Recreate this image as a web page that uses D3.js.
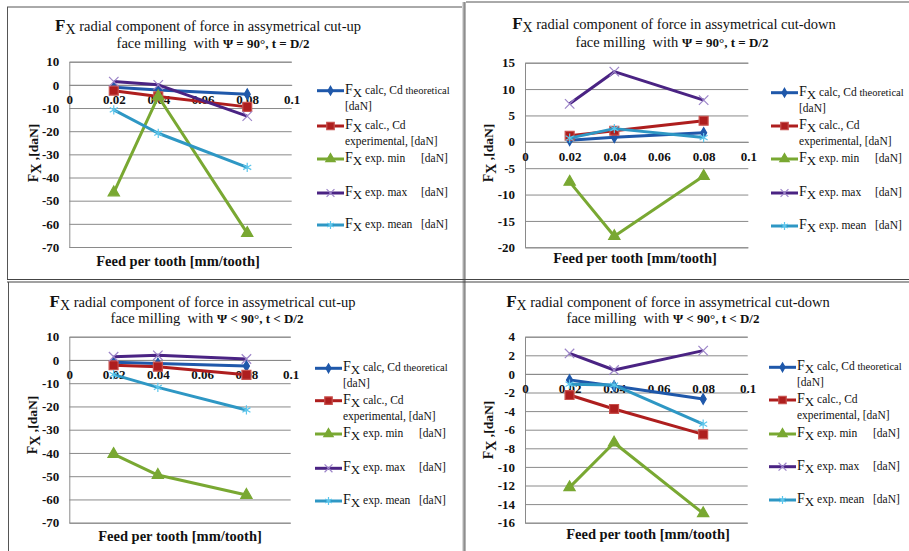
<!DOCTYPE html>
<html>
<head>
<meta charset="utf-8">
<script src="https://cdn.jsdelivr.net/npm/d3@7"></script>
<style>
  body { margin: 0; background: #fff; }
  svg, svg text, svg tspan { font-family: "Liberation Serif", "DejaVu Serif", "Times New Roman", serif !important; }
</style>
</head>
<body>
<svg id="chart" width="909" height="551"></svg>
<script>
// Feed per tooth values (mm/tooth) and x-axis ticks
const feed = [0.02, 0.04, 0.08];
const xTicks = [0, 0.02, 0.04, 0.06, 0.08, 0.1];
const xTickLabels = ["0", "0.02", "0.04", "0.06", "0.08", "0.1"];

// Legend entries (text after the "Fx" symbol); the tail is set a little smaller
const legendMain = ["calc, Cd", "calc.,  Cd", "exp. min", "exp. max", "exp. mean"];
const legendTail = [" theoretical", "", "", "", ""];
const legendSecond = ["[daN]", "experimental,  [daN]", "", "", ""];
const legendUnit = ["", "", "[daN]", "[daN]", "[daN]"];

// Cut-up milling, Ψ = 90°, t = D/2
const upFullTheor = [-1.0, -2.2, -4.0];
const upFullExper = [-2.5, -5.0, -9.5];
const upFullMin   = [-46.5, -5.0, -64.0];
const upFullMax   = [1.4, 0.0, -13.5];
const upFullMean  = [-10.8, -20.9, -35.6];
const upFullTicks = [10, 0, -10, -20, -30, -40, -50, -60, -70];

// Cut-down milling, Ψ = 90°, t = D/2
const downFullTheor = [0.3, 0.85, 1.7];
const downFullExper = [1.15, 2.1, 4.0];
const downFullMin   = [-7.6, -17.9, -6.5];
const downFullMax   = [7.2, 13.3, 7.9];
const downFullMean  = [0.7, 2.5, 0.8];
const downFullTicks = [15, 10, 5, 0, -5, -10, -15, -20];

// Cut-up milling, Ψ < 90°, t < D/2
const upPartTheor = [-1.0, -1.5, -2.6];
const upPartExper = [-2.3, -2.9, -6.4];
const upPartMin   = [-40.5, -49.5, -58.1];
const upPartMax   = [1.4, 2.0, 0.4];
const upPartMean  = [-6.3, -11.8, -21.5];
const upPartTicks = [10, 0, -10, -20, -30, -40, -50, -60, -70];

// Cut-down milling, Ψ < 90°, t < D/2
const downPartTheor = [-0.66, -1.3, -2.7];
const downPartExper = [-2.27, -3.77, -6.5];
const downPartMin   = [-12.2, -7.4, -15.0];
const downPartMax   = [2.2, 0.42, 2.5];
const downPartMean  = [-1.1, -1.2, -5.4];
const downPartTicks = [4, 2, 0, -2, -4, -6, -8, -10, -12, -14, -16];

const FONT = "'Liberation Serif', 'DejaVu Serif', 'Times New Roman', serif";

// Series styling: line colour, marker shape, marker fill / stroke
const seriesStyle = [
  { color: "#1F58AA", symbol: d3.symbolDiamond, size: 32, fill: "#1F58AA", stroke: "#1F58AA" },
  { color: "#AE1E1E", symbol: d3.symbolSquare, size: 80, fill: "#AE1E1E", stroke: "#C8504C" },
  { color: "#79A832", symbol: d3.symbolTriangle, size: 55, fill: "#79A832", stroke: "#79A832" },
  { color: "#4A2383", symbol: d3.symbolTimes, size: 60, fill: "none", stroke: "#9C84C8" },
  { color: "#2E97C4", symbol: d3.symbolAsterisk, size: 60, fill: "none", stroke: "#5CC6EC" }
];

const panels = [
  {
    series: [upFullTheor, upFullExper, upFullMin, upFullMax, upFullMean],
    ticks: upFullTicks,
    title1: "radial component of force in assymetrical cut-up",
    title2a: "face milling\u00a0 with ", title2b: "Ψ = 90°, t = D/2",
    x0: 69.3, x1: 291.7, yTop: 61.7, yBot: 247,
    t1: [208, 31], t2: [213, 48],
    xTitle: [178, 266], yTitle: [33, 153],
    legX: 317, legY: [90.7, 126, 159, 193, 225]
  },
  {
    series: [downFullTheor, downFullExper, downFullMin, downFullMax, downFullMean],
    ticks: downFullTicks,
    title1: "radial component of force in assymetrical cut-down",
    title2a: "face milling\u00a0 with ", title2b: "Ψ = 90°, t = D/2",
    x0: 525, x1: 748.3, yTop: 62.7, yBot: 247.3,
    t1: [674, 29], t2: [672, 47],
    xTitle: [635, 263], yTitle: [488, 153],
    legX: 771, legY: [92.7, 126, 159, 193, 226]
  },
  {
    series: [upPartTheor, upPartExper, upPartMin, upPartMax, upPartMean],
    ticks: upPartTicks,
    title1: "radial component of force in assymetrical cut-up",
    title2a: "face milling\u00a0 with ", title2b: "Ψ < 90°, t < D/2",
    x0: 69.3, x1: 290.7, yTop: 336.7, yBot: 522.7,
    t1: [202.5, 306.5], t2: [207, 322.5],
    xTitle: [180, 541], yTitle: [32, 425],
    legX: 315, legY: [368.3, 400.7, 434, 468.3, 501]
  },
  {
    series: [downPartTheor, downPartExper, downPartMin, downPartMax, downPartMean],
    ticks: downPartTicks,
    title1: "radial component of force in assymetrical cut-down",
    title2a: "face milling\u00a0 with ", title2b: "Ψ < 90°, t < D/2",
    x0: 525, x1: 747.7, yTop: 336.7, yBot: 522.7,
    t1: [668, 306.5], t2: [663, 322.5],
    xTitle: [648, 539], yTitle: [488, 430],
    legX: 769, legY: [367.3, 400, 434, 466.7, 500]
  }
];

const svg = d3.select("#chart").attr("font-family", FONT);

// Page frame and divider lines between the four charts
const frame = svg.append("g").attr("fill", "none");
frame.append("line").attr("x1", 7).attr("y1", 7).attr("x2", 462).attr("y2", 7).attr("stroke", "#555").attr("stroke-width", 1);
frame.append("line").attr("x1", 7.5).attr("y1", 7).attr("x2", 7.5).attr("y2", 280).attr("stroke", "#555");
frame.append("line").attr("x1", 466).attr("y1", 2).attr("x2", 909).attr("y2", 2).attr("stroke", "#555");
frame.append("line").attr("x1", 8.5).attr("y1", 282).attr("x2", 8.5).attr("y2", 551).attr("stroke", "#555");
frame.append("rect").attr("x", 462.5).attr("y", 2).attr("width", 3.5).attr("height", 549).attr("fill", "#b4b4b4");
frame.append("line").attr("x1", 464.3).attr("y1", 2).attr("x2", 464.3).attr("y2", 551).attr("stroke", "#777").attr("stroke-width", 0.8);
frame.append("line").attr("x1", 7).attr("y1", 279.5).attr("x2", 909).attr("y2", 279.5).attr("stroke", "#444").attr("stroke-width", 1.2);
frame.append("line").attr("x1", 7).attr("y1", 282).attr("x2", 909).attr("y2", 282).attr("stroke", "#444").attr("stroke-width", 1.2);

panels.forEach(p => {
  const g = svg.append("g").attr("font-family", FONT);
  const x = d3.scaleLinear().domain([0, 0.1]).range([p.x0, p.x1]);
  const y = d3.scaleLinear().domain([d3.min(p.ticks), d3.max(p.ticks)]).range([p.yBot, p.yTop]);

  // Title
  const t1 = g.append("text").attr("x", p.t1[0]).attr("y", p.t1[1])
    .attr("text-anchor", "middle").attr("font-size", 14.5).attr("fill", "#111");
  t1.append("tspan").attr("font-size", 17).attr("font-weight", "bold").text("F");
  t1.append("tspan").attr("font-size", 14).attr("dy", 3).text("X");
  t1.append("tspan").attr("dy", -3).text(" " + p.title1);

  const t2 = g.append("text").attr("x", p.t2[0]).attr("y", p.t2[1])
    .attr("text-anchor", "middle").attr("font-size", 14.5).attr("fill", "#111");
  t2.append("tspan").text(p.title2a);
  t2.append("tspan").attr("font-weight", "bold").attr("font-size", 13).text(p.title2b);

  // Horizontal gridlines with y tick labels
  const yAxis = g.append("g").attr("transform", `translate(${p.x0},0)`)
    .call(d3.axisLeft(y).tickValues(p.ticks).tickSize(-(p.x1 - p.x0)).tickPadding(10).tickFormat(d => String(d)));
  yAxis.attr("font-family", FONT);
  yAxis.selectAll(".tick line").attr("stroke", "#8a8a8a").attr("stroke-width", 1);
  yAxis.select(".domain").attr("stroke", "#8a8a8a");
  yAxis.selectAll("text").attr("font-size", 13).attr("font-weight", "bold").attr("fill", "#111");

  // Category axis crossing at zero
  const xAxis = g.append("g").attr("transform", `translate(0,${y(0)})`)
    .call(d3.axisBottom(x).tickValues(xTicks).tickSize(0).tickPadding(10).tickFormat((d, i) => xTickLabels[i]));
  xAxis.attr("font-family", FONT);
  xAxis.select(".domain").attr("stroke", "#8a8a8a");
  xAxis.selectAll("text").attr("font-size", 13).attr("font-weight", "bold").attr("fill", "#111");

  // Axis titles
  g.append("text").attr("x", p.xTitle[0]).attr("y", p.xTitle[1]).attr("text-anchor", "middle")
    .attr("font-size", 14.5).attr("font-weight", "bold").attr("fill", "#111")
    .text("Feed per tooth [mm/tooth]");
  const yt = g.append("text").attr("transform", `translate(${p.yTitle[0] + 5},${p.yTitle[1]}) rotate(-90)`)
    .attr("text-anchor", "middle").attr("font-size", 13.5).attr("font-weight", "bold").attr("fill", "#111");
  yt.append("tspan").attr("font-size", 14).text("F");
  yt.append("tspan").attr("font-size", 14).attr("dy", 3).text("X");
  yt.append("tspan").attr("dy", -3).text(" ,[daN]");

  // Series lines and markers
  const line = d3.line().x((d, i) => x(feed[i])).y(d => y(d));
  p.series.forEach((vals, si) => {
    const st = seriesStyle[si];
    const sg = g.append("g");
    sg.append("path").datum(vals).attr("d", line).attr("fill", "none")
      .attr("stroke", st.color).attr("stroke-width", 3).attr("stroke-linejoin", "round");
    sg.selectAll("path.m").data(vals).join("path").attr("class", "m")
      .attr("transform", (d, i) => `translate(${x(feed[i])},${y(d)})`)
      .attr("d", d3.symbol(st.symbol, st.size))
      .attr("fill", st.fill).attr("stroke", st.stroke).attr("stroke-width", 1.2);
  });

  // Legend
  p.legY.forEach((ly, si) => {
    const st = seriesStyle[si];
    const lg = g.append("g");
    lg.append("line").attr("x1", p.legX).attr("x2", p.legX + 27).attr("y1", ly).attr("y2", ly)
      .attr("stroke", st.color).attr("stroke-width", 3);
    lg.append("path").attr("transform", `translate(${p.legX + 13.5},${ly})`)
      .attr("d", d3.symbol(st.symbol, st.size * 0.7))
      .attr("fill", st.fill).attr("stroke", st.stroke).attr("stroke-width", 1.2);
    const tx = p.legX + 28;
    const tt = lg.append("text").attr("x", tx).attr("y", ly + 3).attr("font-size", 11.5).attr("fill", "#111");
    tt.append("tspan").attr("font-size", 14).text("F");
    tt.append("tspan").attr("font-size", 13).attr("dy", 3).text("X");
    tt.append("tspan").attr("dy", -3).text(" " + legendMain[si]);
    if (legendTail[si]) tt.append("tspan").attr("font-size", 10.5).text(legendTail[si]);
    if (legendSecond[si]) {
      lg.append("text").attr("x", tx).attr("y", ly + 19).attr("font-size", 11.5).attr("fill", "#111")
        .text(legendSecond[si]);
    }
    if (legendUnit[si]) {
      lg.append("text").attr("x", p.legX + 104).attr("y", ly + 3).attr("font-size", 11.5).attr("fill", "#111")
        .text(legendUnit[si]);
    }
  });
});
</script>
</body>
</html>
